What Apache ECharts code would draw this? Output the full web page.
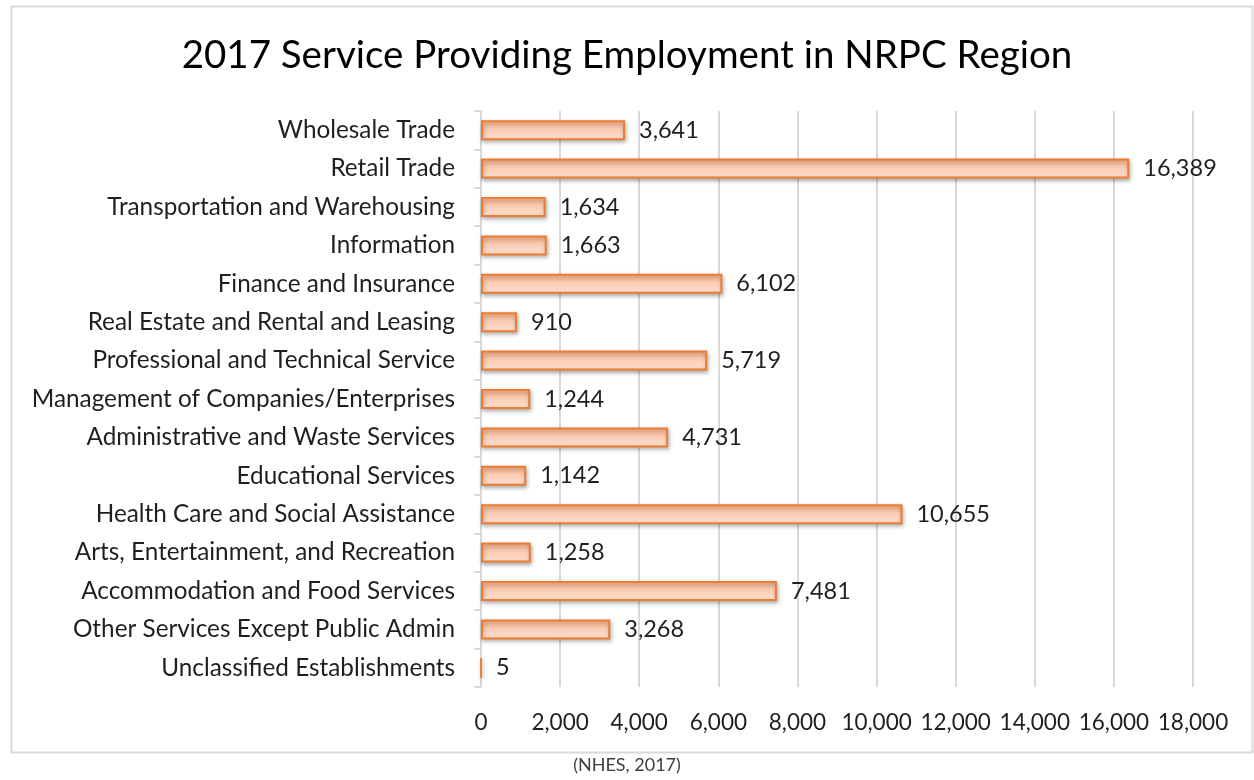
<!DOCTYPE html>
<html>
<head>
<meta charset="utf-8">
<script src="https://cdn.jsdelivr.net/npm/echarts@6/dist/echarts.min.js"></script>
<style>
  html, body { margin: 0; padding: 0; background: #ffffff; }
  #chart { width: 1254px; height: 780px; }
</style>
</head>
<body>
<div id="chart"></div>
<script>
// Industry sectors, top to bottom
const categories = [
  'Wholesale Trade',
  'Retail Trade',
  'Transportation and Warehousing',
  'Information',
  'Finance and Insurance',
  'Real Estate and Rental and Leasing',
  'Professional and Technical Service',
  'Management of Companies/Enterprises',
  'Administrative and Waste Services',
  'Educational Services',
  'Health Care and Social Assistance',
  'Arts, Entertainment, and Recreation',
  'Accommodation and Food Services',
  'Other Services Except Public Admin',
  'Unclassified Establishments'
];

// Employment counts per sector
const employment = [3641, 16389, 1634, 1663, 6102, 910, 5719, 1244, 4731, 1142, 10655, 1258, 7481, 3268, 5];

const titleText = '2017 Service Providing Employment in NRPC Region';
const sourceText = '(NHES, 2017)';

const fontFamily = 'Lato, Carlito, Calibri, sans-serif';
const textColor = '#1f1f1f';

const chart = echarts.init(document.getElementById('chart'));

chart.setOption({
  backgroundColor: '#ffffff',
  animation: false,
  title: {
    text: titleText,
    left: 'center',
    top: 31,
    textStyle: { fontFamily, fontSize: 38.5, fontWeight: 'normal', color: '#000000' }
  },
  graphic: [
    {
      type: 'rect',
      shape: { x: 11.5, y: 6.5, width: 1241, height: 746 },
      style: { fill: 'none', stroke: '#d9d9d9', lineWidth: 2 },
      silent: true
    },
    {
      type: 'text',
      left: 'center',
      top: 756,
      style: { text: sourceText, font: '18px ' + fontFamily, fill: '#404040' }
    }
  ],
  grid: { left: 481, right: 61, top: 111, bottom: 93 },
  xAxis: {
    type: 'value',
    min: 0,
    max: 18000,
    interval: 2000,
    axisLine: { show: false },
    axisTick: { show: false },
    splitLine: { show: true, lineStyle: { color: '#d9d9d9', width: 2 } },
    axisLabel: {
      margin: 24,
      fontFamily,
      fontSize: 22.5,
      color: textColor,
      formatter: v => v.toLocaleString('en-US')
    }
  },
  yAxis: {
    type: 'category',
    data: categories,
    inverse: true,
    axisLine: { show: true, lineStyle: { color: '#d9d9d9', width: 2 } },
    axisTick: { show: true, length: 7, lineStyle: { color: '#d9d9d9', width: 2 } },
    axisLabel: { margin: 26, fontFamily, fontSize: 24.3, color: textColor }
  },
  series: [{
    type: 'bar',
    data: employment,
    barWidth: 20,
    itemStyle: {
      color: new echarts.graphic.LinearGradient(0, 0, 0, 1, [
        { offset: 0, color: '#f8b28c' },
        { offset: 0.5, color: '#fbceb6' },
        { offset: 1, color: '#fde2d3' }
      ]),
      borderColor: '#ed7d31',
      borderWidth: 2,
      shadowColor: 'rgba(0,0,0,0.3)',
      shadowBlur: 4,
      shadowOffsetX: 1,
      shadowOffsetY: 2
    },
    label: {
      show: true,
      position: 'right',
      distance: 14,
      fontFamily,
      fontSize: 23.5,
      color: textColor,
      formatter: p => p.value.toLocaleString('en-US')
    }
  }]
});
</script>
</body>
</html>
